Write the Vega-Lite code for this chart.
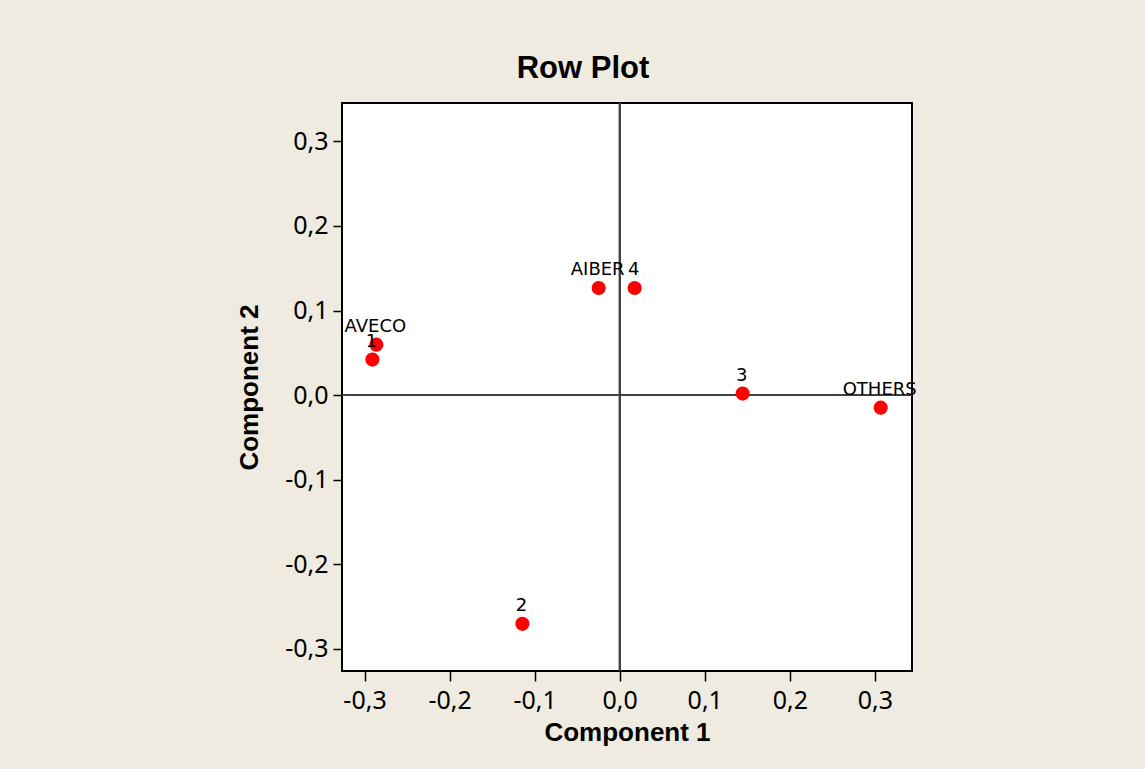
{
  "$schema": "https://vega.github.io/schema/vega-lite/v6.json",
  "autosize": "none",
  "width": 570,
  "height": 568,
  "padding": {"left": 342, "top": 103, "right": 233, "bottom": 98},
  "background": "#EFEBE1",
  "title": {
    "text": "Row Plot",
    "font": "Liberation Sans",
    "fontSize": 31,
    "fontWeight": "bold",
    "color": "black",
    "anchor": "middle",
    "dx": -44,
    "dy": 33,
    "baseline": "alphabetic",
    "offset": 26
  },
  "config": {
    "locale": {"number": {"decimal": ",", "thousands": ".", "grouping": [3], "currency": ["", ""], "minus": "-"}},
    "view": {"fill": "white", "stroke": "black", "strokeWidth": 2},
    "axis": {
      "grid": false,
      "domain": false,
      "tickColor": "black",
      "tickWidth": 1.5,
      "labelFont": "Noto Sans",
      "labelFontSize": 25,
      "labelColor": "black",
      "titleFont": "Liberation Sans",
      "titleFontSize": 26,
      "titleFontWeight": "bold",
      "titleColor": "black"
    }
  },
  "data": {
    "values": [
      {"label": "AVECO", "c1": -0.2861, "c2": 0.0597},
      {"label": "1", "c1": -0.2908, "c2": 0.0420},
      {"label": "AIBER", "c1": -0.0247, "c2": 0.1267},
      {"label": "4", "c1": 0.0176, "c2": 0.1267},
      {"label": "3", "c1": 0.1446, "c2": 0.0018},
      {"label": "OTHERS", "c1": 0.3069, "c2": -0.0148},
      {"label": "2", "c1": -0.1144, "c2": -0.2704}
    ]
  },
  "encoding": {
    "x": {
      "field": "c1",
      "type": "quantitative",
      "title": "Component 1",
      "scale": {"domain": [-0.3265, 0.3437], "nice": false, "zero": false},
      "axis": {"values": [-0.3, -0.2, -0.1, 0, 0.1, 0.2, 0.3], "format": ".1f", "tickSize": 10, "labelPadding": 7, "titlePadding": 6}
    },
    "y": {
      "field": "c2",
      "type": "quantitative",
      "title": "Component 2",
      "scale": {"domain": [-0.3262, 0.3454], "nice": false, "zero": false},
      "axis": {"values": [-0.3, -0.2, -0.1, 0, 0.1, 0.2, 0.3], "format": ".1f", "tickSize": 9, "labelPadding": 5, "titlePadding": 22}
    }
  },
  "layer": [
    {
      "mark": {"type": "rule", "color": "#404040", "strokeWidth": 1.5},
      "encoding": {"x": {"datum": 0}, "y": null}
    },
    {
      "mark": {"type": "rule", "color": "#404040", "strokeWidth": 1.5},
      "encoding": {"y": {"datum": 0}, "x": null}
    },
    {
      "mark": {"type": "point", "filled": true, "shape": "circle", "size": 200, "color": "#FF0000", "opacity": 1}
    },
    {
      "mark": {"type": "text", "font": "DejaVu Sans", "fontSize": 18, "color": "black", "baseline": "alphabetic", "align": "center", "dy": -13, "dx": -1},
      "encoding": {"text": {"field": "label"}}
    }
  ]
}
